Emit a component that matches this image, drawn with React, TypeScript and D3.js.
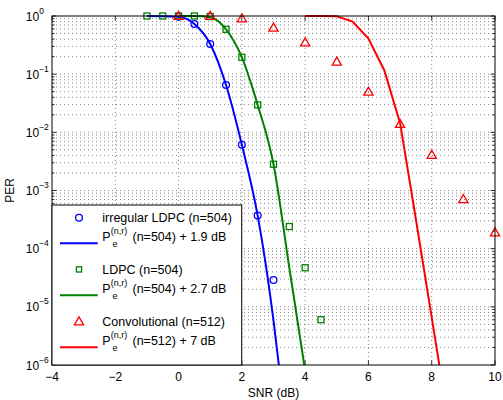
import React from "react";
import * as d3 from "d3";

// ---- data ----
const snrIrr = [0, 0.5, 1, 1.5, 2, 2.5, 3];
const perIrr = [0.97, 0.73, 0.33, 0.065, 0.0061, 3.7e-4, 2.9e-5];

const snrLdpc = [-1, -0.5, 0, 0.5, 1, 1.5, 2, 2.5, 3, 3.5, 4, 4.5];
const perLdpc = [1, 1, 1, 1, 0.98, 0.59, 0.195, 0.0296, 0.00283, 2.4e-4, 4.7e-5, 6e-6];

const snrConv = [0, 1, 2, 3, 4, 5, 6, 7, 8, 9, 10];
const perConv = [1, 1, 0.91, 0.63, 0.35, 0.164, 0.05, 0.0139, 0.0041, 7.1e-4, 1.9e-4];

const snrIrrBound = [-1, -0.5, 0, 0.5, 1, 1.5, 2, 2.5, 2.75, 3, 3.25];
const perIrrBound = [1, 0.995, 0.97, 0.73, 0.33, 0.065, 0.0061, 3.7e-4, 5.6e-5, 5.8e-6, 4.3e-7];

const snrLdpcBound = [0, 0.5, 1, 1.5, 2, 2.5, 3, 3.5, 4];
const perLdpcBound = [1, 0.998, 0.95, 0.59, 0.195, 0.0296, 0.00283, 4.7e-5, 8e-7];

const snrConvBound = [4, 4.5, 5, 5.5, 6, 6.5, 7, 7.5, 8, 8.5];
const perConvBound = [1, 1, 0.99, 0.8, 0.41, 0.117, 0.0145, 3.2e-4, 6.6e-6, 1.3e-7];

const xTicks = [-4, -2, 0, 2, 4, 6, 8, 10];
const yExponents = [0, -1, -2, -3, -4, -5, -6];

const legendMarkerLabels = ["irregular LDPC (n=504)", "LDPC (n=504)", "Convolutional (n=512)"];
const legendBoundLabels = ["(n=504) + 1.9 dB", "(n=504) + 2.7 dB", "(n=512) + 7 dB"];

const BLUE = "#0000ff";
const GREEN = "#008000";
const RED = "#ff0000";
const FONT = "'Liberation Sans', Arial, Helvetica, sans-serif";

const L = 52, R = 495, T = 16, B = 365;

export default function App() {
  const x = d3.scaleLinear().domain([-4, 10]).range([L, R]);
  const y = d3.scaleLog().domain([1e-6, 1]).range([B, T]);

  const lineSmooth = d3.line<[number, number]>()
    .x((d) => x(d[0]))
    .y((d) => y(d[1]))
    .curve(d3.curveMonotoneX);
  const lineLin = d3.line<[number, number]>()
    .x((d) => x(d[0]))
    .y((d) => y(d[1]));

  const zip = (a: number[], b: number[]) => a.map((v, i) => [v, b[i]] as [number, number]);

  const majorY: number[] = yExponents.map((e) => Math.pow(10, e));
  const minorY: number[] = [];
  for (let e = -6; e < 0; e++) {
    for (let m = 2; m <= 9; m++) minorY.push(m * Math.pow(10, e));
  }
  const gridColor = "#555";

  const triPath = (cx: number, cy: number, s = 4.6) =>
    `M${cx},${cy - s}L${cx + s * 1.0},${cy + s * 0.75}L${cx - s * 1.0},${cy + s * 0.75}Z`;

  const markerRow = (i: number) => 217.8 + i * 51.6;
  const textRow = (i: number) => 222.3 + i * 51.7;
  const pRow = (i: number) => 240.7 + i * 52;
  const lineRow = (i: number) => 243.3 + i * 52;
  const colors = [BLUE, GREEN, RED];

  return (
    <svg width={503} height={400} style={{ position: "absolute", left: 0, top: 0, background: "#fff" }}
      fontFamily={FONT}>
      <defs>
        <clipPath id="plotClip">
          <rect x={L} y={T - 1} width={R - L} height={B - T + 1} />
        </clipPath>
      </defs>
      <rect x={0} y={0} width={503} height={400} fill="#fff" />
      <rect x={L} y={T} width={R - L} height={B - T} fill="#fff" />

      {/* grid */}
      <g stroke={gridColor} strokeWidth={0.7} strokeDasharray="1,3">
        {minorY.concat(majorY.slice(1, -1)).map((v, i) => (
          <line key={"h" + i} x1={L} x2={R} y1={y(v)} y2={y(v)} />
        ))}
        {xTicks.slice(1, -1).map((v) => (
          <line key={"v" + v} x1={x(v)} x2={x(v)} y1={T} y2={B} />
        ))}
      </g>

      {/* ticks */}
      <g stroke="#000" strokeWidth={0.8}>
        {xTicks.map((v) => (
          <g key={"xt" + v}>
            <line x1={x(v)} x2={x(v)} y1={B} y2={B - 4.5} />
            <line x1={x(v)} x2={x(v)} y1={T} y2={T + 4.5} />
          </g>
        ))}
        {majorY.map((v, i) => (
          <g key={"ymt" + i}>
            <line x1={L} x2={L + 4.5} y1={y(v)} y2={y(v)} />
            <line x1={R} x2={R - 4.5} y1={y(v)} y2={y(v)} />
          </g>
        ))}
        {minorY.map((v, i) => (
          <g key={"ynt" + i}>
            <line x1={L} x2={L + 2.5} y1={y(v)} y2={y(v)} />
            <line x1={R} x2={R - 2.5} y1={y(v)} y2={y(v)} />
          </g>
        ))}
      </g>

      {/* series */}
      <g fill="none" stroke={BLUE} strokeWidth={1.3}>
        {snrIrr.map((s, i) => (
          <circle key={"c" + i} cx={x(s)} cy={y(perIrr[i])} r={3.4} />
        ))}
      </g>
      <path d={lineSmooth(zip(snrIrrBound, perIrrBound)) || ""} fill="none" stroke={BLUE} strokeWidth={2}
        clipPath="url(#plotClip)" />
      <g fill="none" stroke={GREEN} strokeWidth={1.3}>
        {snrLdpc.map((s, i) => (
          <rect key={"s" + i} x={x(s) - 3} y={y(perLdpc[i]) - 3} width={6} height={6} />
        ))}
      </g>
      <path d={lineSmooth(zip(snrLdpcBound, perLdpcBound)) || ""} fill="none" stroke={GREEN} strokeWidth={2}
        clipPath="url(#plotClip)" />
      <g fill="none" stroke={RED} strokeWidth={1.3}>
        {snrConv.map((s, i) => (
          <path key={"t" + i} d={triPath(x(s), y(perConv[i]))} />
        ))}
      </g>
      <path d={lineLin(zip(snrConvBound, perConvBound)) || ""} fill="none" stroke={RED} strokeWidth={2}
        clipPath="url(#plotClip)" />

      {/* axes box */}
      <rect x={L} y={T} width={R - L} height={B - T} fill="none" stroke="#000" strokeWidth={1} />

      {/* tick labels */}
      <g fontSize={12} fill="#000">
        {xTicks.map((v) => (
          <text key={"xl" + v} x={x(v)} y={380.7} textAnchor="middle">
            {v < 0 ? "\u2212" + Math.abs(v) : String(v)}
          </text>
        ))}
        {yExponents.map((e) => (
          <text key={"yl" + e} x={25.8} y={y(Math.pow(10, e)) + 4.6}>
            10
            <tspan fontSize={8.5} dy={-7.1}>{e < 0 ? "\u2212" + Math.abs(e) : String(e)}</tspan>
          </text>
        ))}
      </g>
      <text x={273.5} y={396.7} textAnchor="middle" fontSize={12}>SNR (dB)</text>
      <text transform={`translate(14,190.5) rotate(-90)`} textAnchor="middle" fontSize={12}>PER</text>

      {/* legend */}
      <rect x={L} y={205} width={241.7 - L} height={B - 205} fill="#fff" stroke="#000" strokeWidth={1} />
      {colors.map((c, i) => (
        <g key={"lg" + i}>
          {i === 0 && <circle cx={79} cy={markerRow(0)} r={3.4} fill="none" stroke={c} strokeWidth={1.3} />}
          {i === 1 && <rect x={79 - 2.6} y={markerRow(1) - 2.6} width={5.2} height={5.2} fill="none" stroke={c} strokeWidth={1.3} />}
          {i === 2 && <path d={triPath(79, markerRow(2) + 0.5)} fill="none" stroke={c} strokeWidth={1.3} />}
          <text x={102.3} y={textRow(i)} fontSize={12.5}>{legendMarkerLabels[i]}</text>
          <line x1={60} x2={97.7} y1={lineRow(i)} y2={lineRow(i)} stroke={c} strokeWidth={2} />
          <text x={102.3} y={pRow(i)} fontSize={12.5}>
            P
            <tspan x={110.7} dy={-6.4} fontSize={9}>(n,r)</tspan>
            <tspan x={112.4} dy={13} fontSize={9}>e</tspan>
            <tspan x={132.5} dy={-6.6} fontSize={12.5}>{legendBoundLabels[i]}</tspan>
          </text>
        </g>
      ))}
    </svg>
  );
}
